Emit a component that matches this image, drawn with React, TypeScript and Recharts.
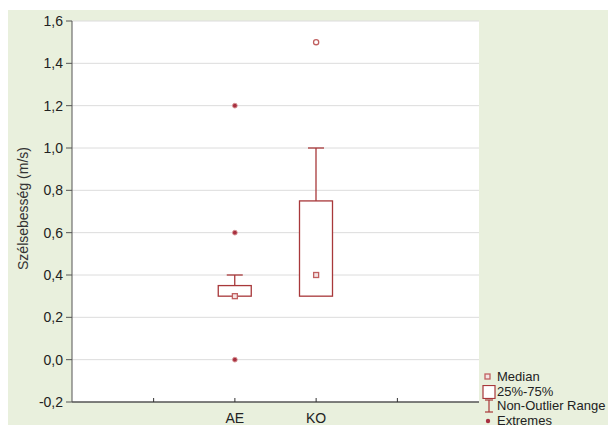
import React from 'react';
import { ComposedChart, Bar, Line, XAxis, YAxis, CartesianGrid } from 'recharts';

const groups = ['AE', 'KO'];
const q1 = [0.3, 0.3];
const q3 = [0.35, 0.75];
const medians = [0.3, 0.4];
const whiskerLow = [0.3, 0.3];
const whiskerHigh = [0.4, 1.0];
const extremes = [[1.2, 0.6, 0.0], []];
const outliers = [[], [1.5]];
const yTicks = [-0.2, 0, 0.2, 0.4, 0.6, 0.8, 1.0, 1.2, 1.4, 1.6];

const RED = '#a8383a';
const FONT = '"Liberation Sans", Arial, sans-serif';

const maxExt = Math.max(...extremes.map((e) => e.length));
const maxOut = Math.max(...outliers.map((e) => e.length));

const data = [
  { cat: 'padL' },
  ...groups.map((g, i) => {
    const row: any = {
      cat: g,
      box: [q1[i], q3[i]],
      upper: [q3[i], whiskerHigh[i]],
      lower: [whiskerLow[i], q1[i]],
      median: medians[i],
    };
    extremes[i].forEach((v, k) => (row['ext' + k] = v));
    outliers[i].forEach((v, k) => (row['out' + k] = v));
    return row;
  }),
  { cat: 'padR' },
];

const fmt = (v: number) => v.toFixed(1).replace('.', ',');

const BoxShape = (p: any) => {
  if (p.height == null || !p.payload || !p.payload.box) return null;
  const y = Math.min(p.y, p.y + p.height);
  const h = Math.abs(p.height);
  return <rect x={p.x} y={y} width={p.width} height={h} fill="#fff" stroke={RED} strokeWidth={1.3} />;
};

const makeWhisker = (capTop: boolean) => (p: any) => {
  if (p.height == null || Math.abs(p.height) < 0.5) return null;
  const y = Math.min(p.y, p.y + p.height);
  const h = Math.abs(p.height);
  const cx = p.x + p.width / 2;
  const cy = capTop ? y : y + h;
  return (
    <g stroke={RED} strokeWidth={1.3}>
      <line x1={cx} x2={cx} y1={y} y2={y + h} />
      <line x1={cx - 8} x2={cx + 8} y1={cy} y2={cy} />
    </g>
  );
};

const MedianDot = (p: any) => {
  if (p.value == null) return null;
  return <rect key={p.key} x={p.cx - 2.5} y={p.cy - 2.5} width={5} height={5} fill="#f4e4e4" stroke="#c06060" strokeWidth={1.3} />;
};

const ExtremeDot = (p: any) => {
  if (p.value == null) return null;
  return <circle key={p.key} cx={p.cx} cy={p.cy} r={2.4} fill="#a83040" stroke="#d89898" strokeWidth={0.9} />;
};

const OutlierDot = (p: any) => {
  if (p.value == null) return null;
  return <circle key={p.key} cx={p.cx} cy={p.cy} r={2.6} fill="#fff" stroke="#c06060" strokeWidth={1.3} />;
};

const BottomTick = (p: any) => {
  const label = groups.includes(p.payload.value) ? p.payload.value : '';
  const axisY = p.y - 8;
  return (
    <g>
      <line x1={p.x} x2={p.x} y1={axisY} y2={axisY - 4} stroke="#333" />
      <text x={p.x} y={p.y + 13} textAnchor="middle" fontSize={14} fill="#222" fontFamily={FONT}>
        {label}
      </text>
    </g>
  );
};

const YLabel = (p: any) => {
  const vb = p.viewBox;
  const x = vb.x + 7;
  const y = vb.y + vb.height / 2 - 3;
  return (
    <text x={x} y={y} transform={`rotate(-90 ${x} ${y})`} textAnchor="middle" dominantBaseline="central" fontSize={14} fill="#333" fontFamily={FONT}>
      Szélsebesség (m/s)
    </text>
  );
};

const legendRow = { display: 'flex', alignItems: 'center', height: 14.5, whiteSpace: 'nowrap' } as const;

const LegendBox = () => (
  <div style={{ position: 'absolute', left: 482, top: 370, fontSize: 13, color: '#222', fontFamily: FONT, lineHeight: '14px' }}>
    <div style={legendRow}>
      <svg width={15} height={14}><rect x={3} y={4} width={5} height={5} fill="#f4e4e4" stroke="#c06060" strokeWidth={1.3} /></svg>
      <span>Median</span>
    </div>
    <div style={legendRow}>
      <svg width={15} height={14}><rect x={1} y={0.5} width={12} height={13} fill="#fff" stroke={RED} strokeWidth={1.2} /></svg>
      <span>25%-75%</span>
    </div>
    <div style={legendRow}>
      <svg width={15} height={14}>
        <g stroke={RED} strokeWidth={1.2}>
          <line x1={3} x2={11} y1={1} y2={1} />
          <line x1={7} x2={7} y1={1} y2={13} />
          <line x1={3} x2={11} y1={13} y2={13} />
        </g>
      </svg>
      <span>Non-Outlier Range</span>
    </div>
    <div style={legendRow}>
      <svg width={15} height={14}><circle cx={6} cy={7} r={2.2} fill="#a83040" /></svg>
      <span>Extremes</span>
    </div>
  </div>
);

export default function App() {
  return (
    <div style={{ position: 'absolute', left: 0, top: 0, width: 608, height: 427, background: '#fff', overflow: 'hidden' }}>
      <div style={{ position: 'absolute', left: 8, top: 10, width: 600, height: 415, background: '#e9f0dd' }}>
        <ComposedChart
          width={600}
          height={415}
          data={data}
          margin={{ top: 11, right: 129, bottom: 0, left: 8 }}
          barGap={-33}
          style={{ fontFamily: FONT }}
        >
          <CartesianGrid vertical={false} stroke="#dcdcdc" fill="#fff" />
          <XAxis
            dataKey="cat"
            padding={{ left: 41, right: 41 }}
            height={23}
            tickSize={0}
            tickMargin={8}
            tickLine={false}
            tick={<BottomTick />}
            axisLine={{ stroke: '#111' }}
            interval={0}
          />
          <XAxis
            xAxisId="top"
            dataKey="cat"
            orientation="top"
            padding={{ left: 41, right: 41 }}
            height={0}
            mirror
            tickSize={4}
            tickFormatter={() => ''}
            axisLine={{ stroke: '#555' }}
            tickLine={{ stroke: '#555' }}
            interval={0}
          />
          <YAxis
            domain={[-0.2, 1.6]}
            ticks={yTicks}
            width={56}
            tickFormatter={fmt}
            tickSize={6}
            tickMargin={3}
            tick={{ fontSize: 14, fill: '#222' }}
            axisLine={{ stroke: '#555' }}
            tickLine={{ stroke: '#555' }}
            interval={0}
            label={<YLabel />}
          />
          <YAxis
            yAxisId="r"
            orientation="right"
            domain={[-0.2, 1.6]}
            ticks={yTicks}
            width={0}
            mirror
            tickSize={4}
            tickFormatter={() => ''}
            axisLine={{ stroke: '#111' }}
            tickLine={{ stroke: '#555' }}
            interval={0}
          />
          <Bar dataKey="upper" barSize={33} shape={makeWhisker(true)} isAnimationActive={false} />
          <Bar dataKey="lower" barSize={33} shape={makeWhisker(false)} isAnimationActive={false} />
          <Bar dataKey="box" barSize={33} shape={BoxShape} isAnimationActive={false} />
          <Line dataKey="median" stroke="none" dot={MedianDot} activeDot={false} isAnimationActive={false} />
          {Array.from({ length: maxExt }, (_, k) => (
            <Line key={'e' + k} dataKey={'ext' + k} stroke="none" dot={ExtremeDot} activeDot={false} isAnimationActive={false} />
          ))}
          {Array.from({ length: maxOut }, (_, k) => (
            <Line key={'o' + k} dataKey={'out' + k} stroke="none" dot={OutlierDot} activeDot={false} isAnimationActive={false} />
          ))}
        </ComposedChart>
      </div>
      <LegendBox />
    </div>
  );
}
